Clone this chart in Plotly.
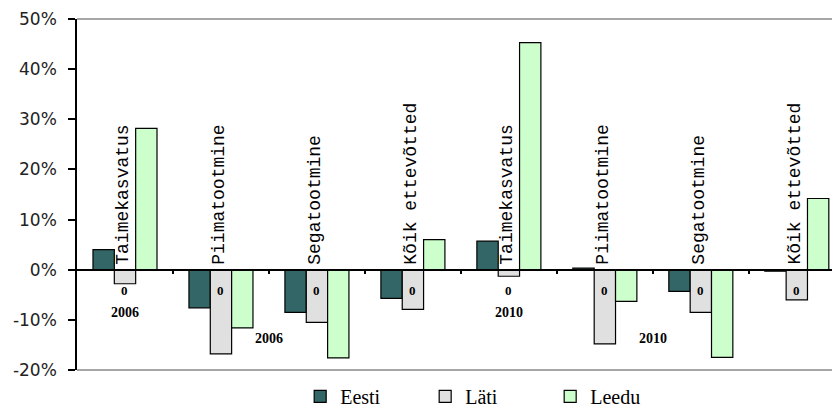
import plotly.graph_objects as go

# Data
categories = ["Taimekasvatus", "Piimatootmine", "Segatootmine", "Kõik ettevõtted",
              "Taimekasvatus", "Piimatootmine", "Segatootmine", "Kõik ettevõtted"]
eesti = [0.040, -0.076, -0.085, -0.057, 0.057, 0.003, -0.043, -0.003]
lati = [-0.028, -0.168, -0.105, -0.079, -0.013, -0.148, -0.085, -0.060]
leedu = [0.282, -0.116, -0.176, 0.060, 0.453, -0.063, -0.175, 0.142]
zero_labels = ["0"] * 8
year_labels = ["2006", "2006", "2010", "2010"]
y_tickvals = [-0.2, -0.1, 0, 0.1, 0.2, 0.3, 0.4, 0.5]
y_ticktext = ["-20%", "-10%", "0%", "10%", "20%", "30%", "40%", "50%"]

series = [("Eesti", eesti, "#336666"),
          ("Läti", lati, "#e0e0e0"),
          ("Leedu", leedu, "#ccffcc")]

x = list(range(len(categories)))
y_range = [-0.2, 0.5]
x_range = [-0.5, 7.45]

serif = "Times New Roman, Liberation Serif, serif"

fig = go.Figure()
for name, vals, color in series:
    fig.add_trace(go.Bar(
        x=x, y=vals, name=name,
        marker=dict(color=color, line=dict(color="black", width=1.2)),
        hoverinfo="skip",
    ))

# dummy trace so the zero-line axis gets drawn
fig.add_trace(go.Scatter(x=[None], y=[None], xaxis="x2", showlegend=False,
                         hoverinfo="skip"))

# rotated category labels
for i, cat in enumerate(categories):
    fig.add_annotation(x=i - 0.02, y=0, text=cat, textangle=-90, showarrow=False,
                       xanchor="center", yanchor="bottom", yshift=3,
                       font=dict(family="Liberation Mono", size=18, color="black"))
    fig.add_annotation(x=i, y=-0.041, text=zero_labels[i], showarrow=False,
                       font=dict(family=serif, size=13, color="black",
                                 weight="bold"))

year_pos = [(0, -0.086), (1.5, -0.137), (4, -0.086), (5.5, -0.137)]
for lbl, (px_, py_) in zip(year_labels, year_pos):
    fig.add_annotation(x=px_, y=py_, text=lbl, showarrow=False,
                       font=dict(family=serif, size=14, color="black",
                                 weight="bold"))

# grey plot-area frame (top and bottom edges)
for edge in (0, 1):
    fig.add_shape(type="line", xref="paper", yref="paper", x0=0, x1=1,
                  y0=edge, y1=edge, line=dict(color="#a6a6a6", width=2))

zero_pos = (0 - y_range[0]) / (y_range[1] - y_range[0])

# page body has an 8px margin, so the figure is 8px smaller each way
fig.update_layout(
    width=832, height=404,
    margin=dict(l=69, r=0, t=11, b=42, autoexpand=False),
    font=dict(family=serif, color="black"),
    paper_bgcolor="white", plot_bgcolor="white",
    barmode="group", bargap=0.333, bargroupgap=0,
    xaxis=dict(range=x_range, showticklabels=False, showgrid=False,
               zeroline=False, showline=False, ticks="", automargin=False),
    xaxis2=dict(range=x_range, overlaying="x", anchor="free",
                position=zero_pos, showline=True, linecolor="black", linewidth=1.5,
                ticks="outside", ticklen=4, tickcolor="black", tickwidth=1.5,
                tickvals=[i + 0.5 for i in x[:-1]], showticklabels=False,
                showgrid=False, zeroline=False, automargin=False),
    yaxis=dict(range=y_range, tickvals=y_tickvals, ticktext=y_ticktext,
               showgrid=False, zeroline=False, showline=True, linecolor="black",
               linewidth=1.5, ticks="outside", ticklen=7, tickcolor="black",
               tickwidth=1.5, ticklabelstandoff=8, automargin=False,
               tickfont=dict(family="DejaVu Sans", size=17, color="#222222")),
    legend=dict(orientation="h", x=0.2925, xanchor="left", y=-0.075,
                yanchor="middle", bgcolor="rgba(0,0,0,0)",
                entrywidth=80, entrywidthmode="pixels",
                font=dict(family=serif, size=20, color="black")),
    showlegend=True,
)

fig.update_layout(legend_font_family=serif)

fig.write_html("out.html")
